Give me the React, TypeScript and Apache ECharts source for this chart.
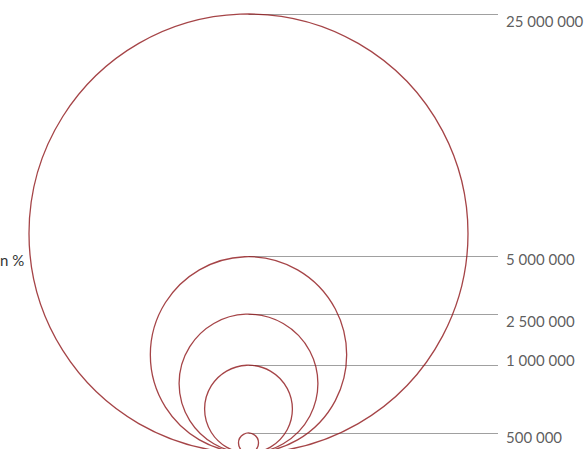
import React, { useEffect, useRef } from "react";
import * as echarts from "echarts";

// Legend labels (tick labels) and the values the circles represent (read from circle areas)
const legendLabels = ["25 000 000", "5 000 000", "2 500 000", "1 000 000", "500 000"];
const circleValues = [25000000, 5000000, 2500000, 1000000, 52000];
const sideLabel = "n %";

// layout constants (pixels on a 585x449 canvas)
const W = 585;
const H = 449;
const CX = 248.5;
const BOTTOM = 453;
const MAX_R = 219.5;
const LINE_END_X = 498;
const LABEL_X = 506;
const LABEL_Y = [20.5, 259, 321, 359.5, 437];

const radius = (v: number) => MAX_R * Math.sqrt(v / circleValues[0]);

export default function App() {
  const ref = useRef<HTMLDivElement>(null);
  useEffect(() => {
    if (!ref.current) return;
    const chart = echarts.init(ref.current, undefined, { renderer: "svg" });
    const circles = circleValues.map((v, i) => ({
      name: legendLabels[i],
      value: [CX, BOTTOM - radius(v)],
      symbolSize: radius(v) * 2,
    }));
    const leaders = circleValues.map((v) => {
      const top = BOTTOM - 2 * radius(v);
      return { coords: [[CX, top], [LINE_END_X, top]] };
    });
    const labels = legendLabels.map((t, i) => ({ name: t, value: [LABEL_X, LABEL_Y[i]] }));
    chart.setOption({
      animation: false,
      grid: { left: 0, top: 0, right: 0, bottom: 0 },
      xAxis: { type: "value", min: 0, max: W, show: false },
      yAxis: { type: "value", min: 0, max: H, inverse: true, show: false },
      series: [
        {
          type: "lines",
          coordinateSystem: "cartesian2d",
          data: leaders,
          lineStyle: { color: "#a0a0a0", width: 1, opacity: 1 },
          silent: true,
          z: 1,
        },
        {
          type: "scatter",
          data: circles,
          symbol: "circle",
          itemStyle: { color: "rgba(0,0,0,0)", borderColor: "#8f1519", borderWidth: 1.3 },
          emphasis: { disabled: true },
          silent: true,
          clip: false,
          z: 2,
        },
        {
          type: "scatter",
          data: labels,
          symbolSize: 0,
          label: {
            show: true,
            position: "right",
            distance: 0,
            formatter: (p: any) => p.name,
            fontFamily: "Lato",
            fontSize: 15,
            color: "#333333",
          },
          emphasis: { disabled: true },
          silent: true,
          z: 3,
        },
      ],
      graphic: [
        {
          type: "text",
          x: 0,
          y: 260,
          style: {
            text: sideLabel,
            font: "15px Lato",
            fill: "#333333",
            align: "left",
            verticalAlign: "middle",
          },
        },
      ],
    });
    return () => chart.dispose();
  }, []);
  return (
    <div
      ref={ref}
      style={{ position: "fixed", left: 0, top: 0, width: W, height: H, background: "#fff" }}
    />
  );
}
